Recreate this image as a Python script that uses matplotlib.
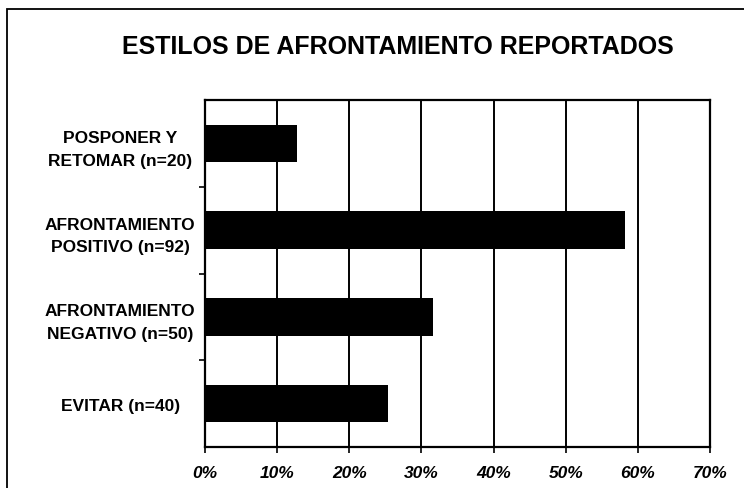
import matplotlib.pyplot as plt
from matplotlib.patches import Rectangle
from matplotlib.ticker import FixedLocator, FuncFormatter

plt.rcParams['font.family'] = ['Liberation Sans', 'DejaVu Sans']

# categories top to bottom as in the chart
categories = ['POSPONER Y\nRETOMAR (n=20)',
              'AFRONTAMIENTO\nPOSITIVO (n=92)',
              'AFRONTAMIENTO\nNEGATIVO (n=50)',
              'EVITAR (n=40)']
percent = [12.7, 58.2, 31.6, 25.3]
xticks = [0, 10, 20, 30, 40, 50, 60, 70]

fig = plt.figure(figsize=(7.44, 4.89), dpi=100)
ax = fig.add_axes([205 / 744, 1 - 448 / 489, 505 / 744, 347 / 489])

pos = list(range(len(categories)))[::-1]
ax.barh(pos, percent, height=0.43, color='black', zorder=3)

ax.set_xlim(0, 70)
ax.set_ylim(-0.5, len(categories) - 0.5)
ax.set_xticks(xticks)
ax.xaxis.set_major_formatter(FuncFormatter(lambda v, p: f'{v:.0f}%'))
ax.grid(axis='x', color='black', linewidth=1.4, zorder=1)

ax.set_yticks(pos)
ax.set_yticklabels(categories, fontsize=12.5, fontweight='bold',
                   ha='center', multialignment='center', linespacing=1.65)
ax.tick_params(axis='y', length=0, pad=61)
ax.yaxis.set_minor_locator(FixedLocator([0.5, 1.5, 2.5]))
ax.tick_params(axis='y', which='minor', length=4, width=1.2, direction='out')
ax.tick_params(axis='x', length=4, width=1.2, direction='out', pad=9,
               labelsize=12.5)
for lab in ax.get_xticklabels():
    lab.set_fontstyle('italic')
    lab.set_fontweight('bold')

for s in ax.spines.values():
    s.set_linewidth(1.6)
    s.set_color('black')

fig.text(398 / 744, 1 - 47 / 489, 'ESTILOS DE AFRONTAMIENTO REPORTADOS',
         ha='center', va='center', fontsize=18, fontweight='bold')

# outer frame of the chart
fig.patches.append(Rectangle((7 / 744, -0.05), 1.2, 1 - 10 / 489 + 0.05,
                             transform=fig.transFigure, fill=False,
                             edgecolor='black', linewidth=1.3))

fig.savefig('out.png', dpi=100)
